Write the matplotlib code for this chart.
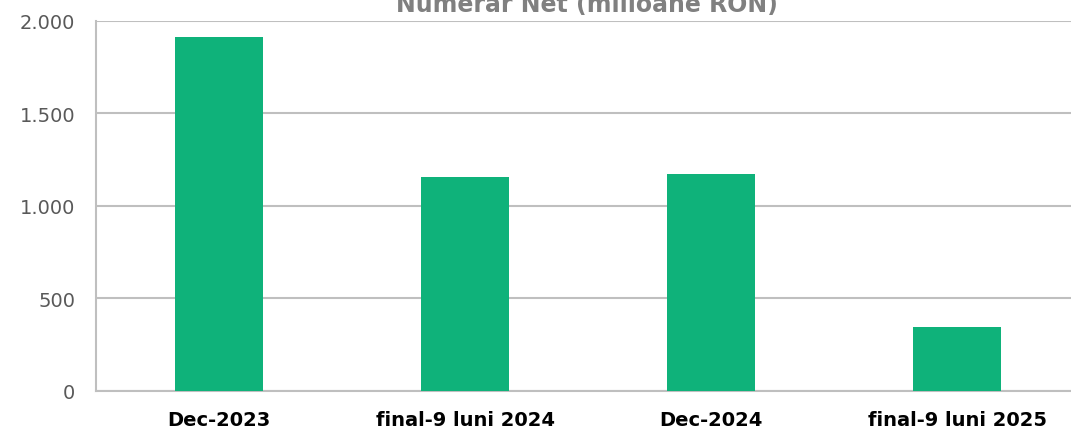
import matplotlib
matplotlib.use('Agg')
import matplotlib.pyplot as plt
from matplotlib.ticker import FuncFormatter

plt.rcParams['font.family'] = ['DejaVu Sans']

# date
categorii = ['Dec-2023', 'final-9 luni 2024', 'Dec-2024', 'final-9 luni 2025']
numerar_net = [1914, 1157, 1173, 345]
titlu = 'Numerar Net (milioane RON)'

fig = plt.figure(figsize=(10.71, 4.31), dpi=100)
ax = fig.add_axes([96/1071, 39.5/431, 984/1071, 369.6/431])

x = range(len(categorii))
ax.bar(x, numerar_net, width=0.36, color='#0fb27a', zorder=3)

ax.set_xlim(-0.5, 3.5)
ax.set_ylim(0, 2000)
ax.set_yticks([0, 500, 1000, 1500, 2000])
ax.yaxis.set_major_formatter(FuncFormatter(lambda v, p: f'{int(v):,}'.replace(',', '.')))
ax.grid(axis='y', color='#bfbfbf', linewidth=1.5, zorder=0)

ax.set_xticks(list(x))
ax.set_xticklabels(categorii, fontsize=14, fontweight='bold', color='black')
ax.tick_params(axis='x', length=0, pad=14)
ax.tick_params(axis='y', length=0, pad=15, labelsize=14, labelcolor='#595959')

for s in ['top', 'right']:
    ax.spines[s].set_visible(False)
for s in ['left', 'bottom']:
    ax.spines[s].set_color('#bfbfbf')
    ax.spines[s].set_linewidth(1.5)

fig.text(587/1071, 1 - 12/431, titlu, ha='center', va='baseline',
         fontsize=17, fontweight='bold', color='#808080')

fig.savefig('out.png', dpi=100)
